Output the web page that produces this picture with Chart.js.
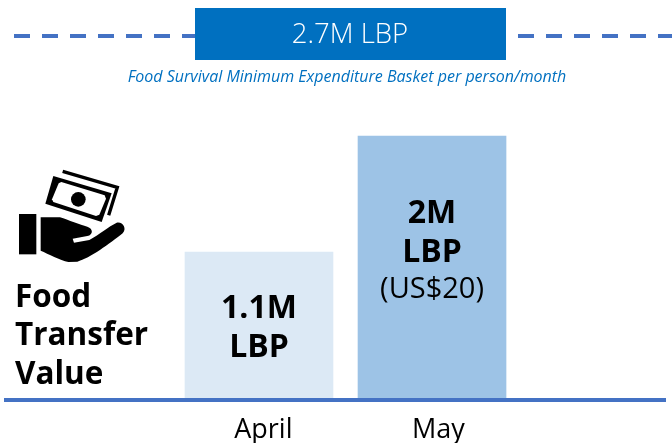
<!DOCTYPE html>
<html>
<head>
<meta charset="utf-8">
<style>
  html, body { margin: 0; padding: 0; background: #fff; }
  #wrap { width: 672px; height: 443px; }
</style>
<script src="https://cdn.jsdelivr.net/npm/chart.js@4"></script>
</head>
<body>
<div id="wrap"><canvas id="transferChart"></canvas></div>
<script>
const months = ['April', 'May'];
const foodTransfer = [1.12, 2];
const barColors = ['#dce9f5', '#9dc3e6'];
const barLabels = [['1.1M', 'LBP'], ['2M', 'LBP']];
const barNotes = ['', '(US$20)'];
const basketValue = 2.7;
const basketLabel = '2.7M LBP';
const basketNote = 'Food Survival Minimum Expenditure Basket per person/month';
const sideTitle = ['Food', 'Transfer', 'Value'];

const fonte = '"Open Sans", sans-serif';

// money in hand icon, coords are in 3x units
function desenharIcone(ctx) {
  ctx.save();
  ctx.translate(0, 160);
  ctx.scale(1 / 3, 1 / 3);
  ctx.fillStyle = '#000';
  ctx.fillRect(57, 162, 52, 121);

  const mao = new Path2D('M122 172 L180 172 C205 180 240 195 262 200 C280 206 280 224 262 228 L218 236 L222 248 L268 240 C300 222 325 200 350 188 C368 184 382 205 368 220 C330 250 270 295 232 305 L205 306 C180 300 145 282 122 272 Z');
  ctx.fill(mao);

  // nota da frente
  ctx.beginPath();
  ctx.moveTo(160, 48); ctx.lineTo(335, 100); ctx.lineTo(305, 186); ctx.lineTo(136, 131);
  ctx.closePath();
  ctx.fill();
  ctx.fillStyle = '#fff';
  ctx.beginPath();
  ctx.moveTo(176, 70); ctx.lineTo(184, 66); ctx.lineTo(314, 106); ctx.lineTo(318, 116);
  ctx.lineTo(298, 164); ctx.lineTo(288, 168); ctx.lineTo(160, 126); ctx.lineTo(156, 118);
  ctx.closePath();
  ctx.fill();
  ctx.fillStyle = '#000';
  ctx.beginPath();
  ctx.arc(235, 118, 22, 0, Math.PI * 2);
  ctx.fill();

  // nota de tras
  ctx.strokeStyle = '#000';
  ctx.lineWidth = 10;
  ctx.beginPath();
  ctx.moveTo(188, 34); ctx.lineTo(352, 82); ctx.lineTo(326, 166);
  ctx.stroke();
  ctx.restore();
}

const textosPlugin = {
  id: 'textos',
  afterDatasetsDraw(chart) {
    const ctx = chart.ctx;
    const yBase = chart.scales.y.getPixelForValue(0);
    const barras = chart.getDatasetMeta(0).data;

    ctx.save();
    // base line, wider than the plot
    ctx.strokeStyle = '#4472c4';
    ctx.lineWidth = 4;
    ctx.beginPath();
    ctx.moveTo(4, yBase);
    ctx.lineTo(666, yBase);
    ctx.stroke();

    // basket box on top of the dashed line
    ctx.fillStyle = '#0070c0';
    ctx.fillRect(195, 8, 311, 52);
    ctx.textAlign = 'center';
    ctx.textBaseline = 'middle';
    ctx.fillStyle = '#fff';
    ctx.font = '300 27.5px ' + fonte;
    ctx.fillText(basketLabel, 350, 35);
    ctx.fillStyle = '#0070c0';
    ctx.font = 'italic 16px ' + fonte;
    ctx.fillText(basketNote, 347, 77);

    // bar labels
    const topos = [309, 214];
    barras.forEach((barra, i) => {
      ctx.fillStyle = '#000';
      ctx.font = 'bold 32px ' + fonte;
      barLabels[i].forEach((txt, j) => ctx.fillText(txt, barra.x, topos[i] + j * 38.5));
      if (barNotes[i]) {
        ctx.font = '29px ' + fonte;
        ctx.fillText(barNotes[i], barra.x, topos[i] + 76);
      }
    });

    // side title
    ctx.textAlign = 'left';
    ctx.font = 'bold 31.5px ' + fonte;
    sideTitle.forEach((txt, i) => ctx.fillText(txt, 15, 298 + i * 38.5));

    desenharIcone(ctx);
    ctx.restore();
  }
};

const xMin = -0.416;
const xMax = 3.387;

new Chart(document.getElementById('transferChart').getContext('2d'), {
  type: 'bar',
  data: {
    datasets: [{
      data: months.map((m, i) => ({ x: i + 1, y: foodTransfer[i] })),
      backgroundColor: barColors,
      barThickness: 148,
      yAxisID: 'y'
    }, {
      type: 'line',
      data: [{ x: xMin, y: basketValue }, { x: xMax, y: basketValue }],
      borderColor: '#4472c4',
      borderWidth: 4,
      borderDash: [16, 12],
      pointRadius: 0,
      yAxisID: 'yBasket'
    }]
  },
  options: {
    responsive: true,
    maintainAspectRatio: false,
    animation: false,
    layout: { padding: { left: 14, right: 0, top: 0, bottom: 0 } },
    plugins: { legend: { display: false }, tooltip: { enabled: false } },
    scales: {
      x: {
        type: 'linear',
        offset: false,
        min: xMin,
        max: xMax,
        grid: { display: false },
        border: { display: false },
        // month labels sit a little right of the bar centres in the original
        afterBuildTicks: axis => { axis.ticks = [{ value: 1.025 }, { value: 2.037 }]; },
        afterFit: axis => { axis.height = 43; },
        ticks: {
          autoSkip: false,
          maxRotation: 0,
          padding: 6,
          color: '#000',
          font: { family: fonte, size: 27 },
          callback: (v, i) => months[i]
        }
      },
      y: { display: false, min: 0, max: 3.03 },
      // dashed line is not to scale with the bars in the original
      yBasket: { display: false, min: 0, max: 2.967 }
    }
  },
  plugins: [textosPlugin]
});
</script>
</body>
</html>
